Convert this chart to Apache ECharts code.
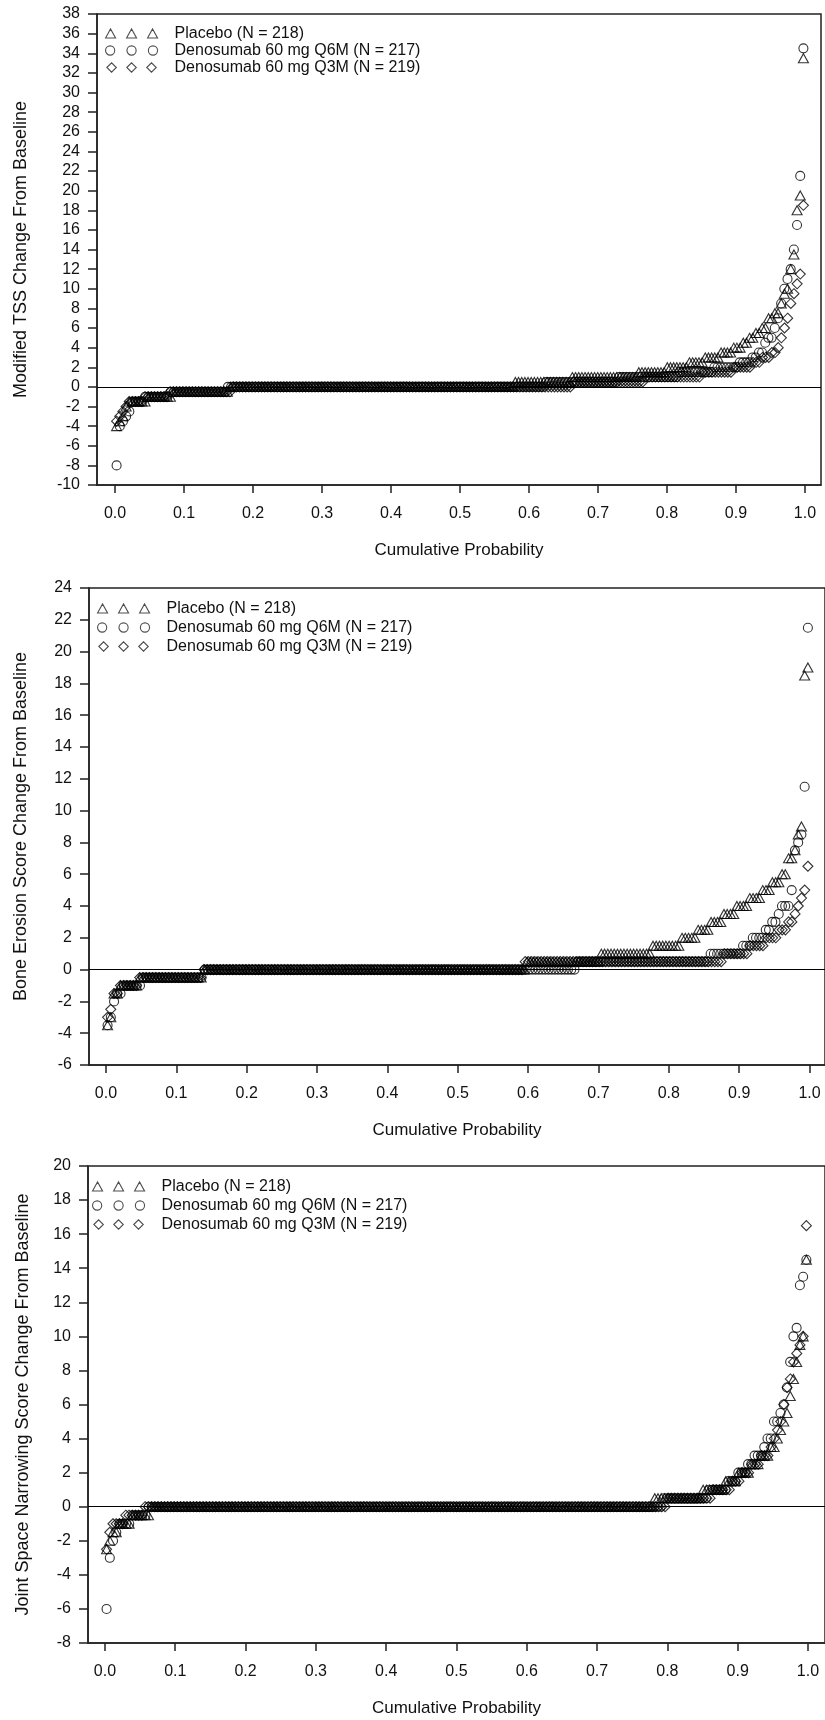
<!DOCTYPE html>
<html><head><meta charset="utf-8">
<script src="https://cdn.jsdelivr.net/npm/echarts@6/dist/echarts.min.js"></script>
<style>html,body{margin:0;padding:0;background:#fff}#c{width:825px;height:1720px}</style>
</head><body><div id="c"></div>
<script>
// ---------- data (sorted change values as [value, count] runs) ----------
const xTicks = [0.0, 0.1, 0.2, 0.3, 0.4, 0.5, 0.6, 0.7, 0.8, 0.9, 1.0];
const seriesNames = ['Placebo (N = 218)', 'Denosumab 60 mg Q6M (N = 217)', 'Denosumab 60 mg Q3M (N = 219)'];
const groupSizes = [218, 217, 219];
const xTitle = 'Cumulative Probability';
const yTitles = ['Modified TSS Change From Baseline', 'Bone Erosion Score Change From Baseline', 'Joint Space Narrowing Score Change From Baseline'];

const tssPlacebo = [[-4,1],[-3.5,1],[-3,1],[-2,1],[-1.5,6],[-1,8],[-0.5,18],[0,90],[0.5,18],[1,21],[1.5,9],[2,7],[2.5,5],[3,5],[3.5,4],[4,3],[4.5,2],[5,2],[5.5,2],[6,2],[7,2],[7.5,2],[8.5,1],[9.5,1],[10,1],[12,1],[13.5,1],[18,1],[19.5,1],[33.5,1]];
const tssQ6M = [[-8,1],[-4,1],[-3.5,1],[-3,1],[-2.5,1],[-1.5,4],[-1,8],[-0.5,18],[0,100],[0.5,23],[1,19],[1.5,11],[2,8],[2.5,4],[3,2],[3.5,2],[4.5,1],[5,2],[6,1],[7,1],[8.5,1],[10,1],[11,1],[12,1],[14,1],[16.5,1],[21.5,1],[34.5,1]];
const tssQ3M = [[-3.5,1],[-3,1],[-2.5,1],[-2,1],[-1.5,5],[-1,8],[-0.5,20],[0,108],[0.5,23],[1,18],[1.5,10],[2,6],[2.5,3],[3,3],[3.5,2],[4,1],[5,1],[6,1],[7,1],[8.5,1],[9.5,1],[10.5,1],[11.5,1],[18.5,1]];

const bePlacebo = [[-3.5,1],[-3,1],[-1.5,2],[-1,6],[-0.5,20],[0,100],[0.5,23],[1,16],[1.5,9],[2,5],[2.5,4],[3,4],[3.5,4],[4,4],[4.5,4],[5,3],[5.5,3],[6,2],[7,2],[7.5,1],[8.5,1],[9,1],[18.5,1],[19,1]];
const beQ6M = [[-3.5,1],[-3,1],[-2,1],[-1.5,2],[-1,6],[-0.5,19],[0,115],[0.5,41],[1,10],[1.5,3],[2,4],[2.5,2],[3,2],[3.5,1],[4,3],[5,1],[7.5,1],[8,1],[8.5,1],[11.5,1],[21.5,1]];
const beQ3M = [[-3,1],[-2.5,1],[-1.5,2],[-1,6],[-0.5,20],[0,100],[0.5,62],[1,8],[1.5,5],[2,4],[2.5,3],[3,2],[3.5,1],[4,1],[4.5,1],[5,1],[6.5,1]];

const jsnPlacebo = [[-2.5,1],[-2,1],[-1.5,2],[-1,4],[-0.5,6],[0,156],[0.5,15],[1,7],[1.5,4],[2,4],[2.5,3],[3,3],[3.5,2],[4,1],[4.5,1],[5,1],[5.5,1],[6.5,1],[7.5,1],[8.5,1],[9.5,1],[10,1],[14.5,1]];
const jsnQ6M = [[-6,1],[-3,1],[-2,1],[-1.5,1],[-1,4],[-0.5,5],[0,159],[0.5,14],[1,6],[1.5,3],[2,3],[2.5,2],[3,3],[3.5,1],[4,2],[5,2],[5.5,1],[6,1],[7,1],[8.5,1],[10,1],[10.5,1],[13,1],[13.5,1],[14.5,1]];
const jsnQ3M = [[-2.5,1],[-1.5,1],[-1,4],[-0.5,6],[0,163],[0.5,14],[1,6],[1.5,3],[2,3],[2.5,3],[3,3],[3.5,1],[4,1],[4.5,1],[5,1],[6,1],[7,1],[7.5,1],[8.5,1],[9,1],[9.5,1],[10,1],[16.5,1]];

const yRanges = [[-10, 38], [-6, 24], [-8, 20]];
const panelData = [[tssPlacebo, tssQ6M, tssQ3M], [bePlacebo, beQ6M, beQ3M], [jsnPlacebo, jsnQ6M, jsnQ3M]];

// ---------- layout / style ----------
const FONT = '"Liberation Sans", Arial, sans-serif';
const INK = '#111';
const LINE = '#222';
const layout = [
  { left: 97, top: 14, width: 724, height: 471, xMin: -0.0261, xMax: 1.0232, nameGapY: 67, legLeft: 105, legTop: 25, legLH: 17 },
  { left: 89, top: 588, width: 737, height: 477, xMin: -0.0241, xMax: 1.0220, nameGapY: 59, legLeft: 97, legTop: 599, legLH: 19 },
  { left: 88, top: 1166, width: 738, height: 477, xMin: -0.0241, xMax: 1.0242, nameGapY: 56, legLeft: 92, legTop: 1177, legLH: 19 }
];
const symbols = [
  { symbol: 'triangle', size: [10, 9], icon: 'path://M0,9L5,0L10,9Z M21,9L26,0L31,9Z M42,9L47,0L52,9Z' },
  { symbol: 'circle', size: 9, icon: 'path://M0.5,4.5A4.5,4.5 0 1,0 9.5,4.5A4.5,4.5 0 1,0 0.5,4.5Z M21.5,4.5A4.5,4.5 0 1,0 30.5,4.5A4.5,4.5 0 1,0 21.5,4.5Z M42.5,4.5A4.5,4.5 0 1,0 51.5,4.5A4.5,4.5 0 1,0 42.5,4.5Z' },
  { symbol: 'diamond', size: [10, 10], icon: 'path://M0,5L5,0L10,5L5,10Z M21,5L26,0L31,5L26,10Z M42,5L47,0L52,5L47,10Z' }
];

function expand(runs, n) {
  const out = [];
  let k = 0;
  runs.forEach(([v, c]) => { for (let i = 0; i < c; i++) { k++; out.push([(k - 0.5) / n, v]); } });
  return out;
}

const grid = [], xAxis = [], yAxis = [], series = [], legend = [];
layout.forEach((L, p) => {
  grid.push({ left: L.left, top: L.top, width: L.width, height: L.height, show: true, borderColor: LINE, borderWidth: 1.5, backgroundColor: 'transparent' });
  xAxis.push({
    gridIndex: p, type: 'value', min: L.xMin, max: L.xMax,
    axisLine: { show: true, onZero: false, lineStyle: { color: LINE, width: 1.5 } },
    axisTick: { show: true, customValues: xTicks, length: 8, lineStyle: { color: LINE, width: 1.5 } },
    axisLabel: { customValues: xTicks, formatter: v => v.toFixed(1), margin: 21, fontSize: 16, color: INK, fontFamily: FONT },
    splitLine: { show: false },
    name: xTitle, nameLocation: 'middle', nameGap: 57,
    nameTextStyle: { fontSize: 17, color: INK, fontFamily: FONT }
  });
  yAxis.push({
    gridIndex: p, type: 'value', min: yRanges[p][0], max: yRanges[p][1], interval: 2,
    axisLine: { show: true, onZero: false, lineStyle: { color: LINE, width: 1.5 } },
    axisTick: { show: true, length: 9, lineStyle: { color: LINE, width: 1.5 } },
    axisLabel: { margin: 17, fontSize: 16, color: INK, fontFamily: FONT, showMinLabel: true, showMaxLabel: true },
    splitLine: { show: false },
    name: yTitles[p], nameLocation: 'middle', nameGap: L.nameGapY, nameRotate: 90,
    nameTextStyle: { fontSize: 18, color: INK, fontFamily: FONT }
  });
  panelData[p].forEach((runs, s) => {
    const S = symbols[s];
    const ser = {
      type: 'scatter', name: seriesNames[s], xAxisIndex: p, yAxisIndex: p,
      data: expand(runs, groupSizes[s]),
      symbol: S.symbol, symbolSize: S.size,
      itemStyle: { color: 'transparent', borderColor: '#000', borderWidth: 1.1 },
      silent: true, animation: false, emphasis: { disabled: true }
    };
    if (s === 0) {
      ser.markLine = {
        silent: true, animation: false, symbol: ['none', 'none'], label: { show: false },
        lineStyle: { color: '#000', width: 1.2, type: 'solid' },
        data: [{ yAxis: 0 }]
      };
    }
    series.push(ser);
  });
  legend.push({
    orient: 'vertical', left: L.legLeft, top: L.legTop, padding: 0, itemGap: 0,
    itemWidth: 52, itemHeight: 9.5, selectedMode: false,
    itemStyle: { color: 'transparent', borderColor: '#222', borderWidth: 1.1 },
    textStyle: { fontSize: 16, color: INK, fontFamily: FONT, lineHeight: L.legLH, padding: [0, 0, 0, 12] },
    data: seriesNames.map((n, s) => ({ name: n, icon: symbols[s].icon }))
  });
});

const chart = echarts.init(document.getElementById('c'), null, { renderer: 'canvas' });
chart.setOption({
  animation: false,
  backgroundColor: '#fff',
  textStyle: { fontFamily: FONT },
  grid, xAxis, yAxis, series, legend
});
</script>
</body></html>
